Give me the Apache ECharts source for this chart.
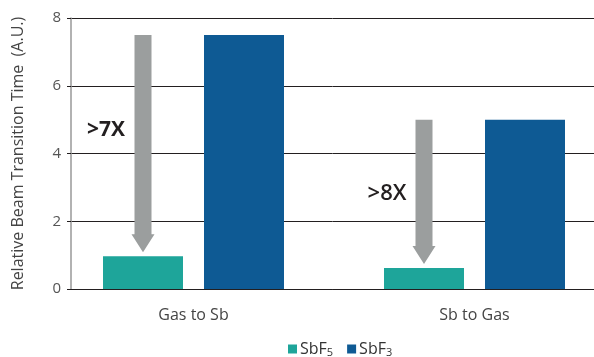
<!DOCTYPE html>
<html>
<head>
<meta charset="utf-8">
<script src="https://cdn.jsdelivr.net/npm/echarts@6/dist/echarts.min.js"></script>
<style>
  html, body { margin: 0; padding: 0; background: #fff; }
  #chart { width: 594px; height: 357px; }
</style>
</head>
<body>
<div id="chart"></div>
<script>
// Beam transition time for the two switching directions
const categories = ['Gas to Sb', 'Sb to Gas'];
const sbf5Values = [0.97, 0.62];
const sbf3Values = [7.5, 5.0];
// height (in axis units) at which each ratio callout sits
const ratioLabelLevel = [4.7, 2.8];
const yTicks = [0, 2, 4, 6, 8];

const FONT = '"Open Sans", "Noto Sans", sans-serif';
const TEAL = '#1ea59a';
const BLUE = '#0e5a94';
const ARROW = '#9b9e9e';
const CALLOUT_FONTS = ['bold 21px ' + FONT, '600 22px ' + FONT];

const BAR_W = 80;
const BAR_GAP = 21;

const chart = echarts.init(document.getElementById('chart'), null, { renderer: 'canvas' });

const arrowData = categories.map((c, i) => [i, sbf3Values[i], sbf5Values[i], ratioLabelLevel[i]]);

// Down arrow from the SbF3 level to the SbF5 bar, with the ratio callout beside it
function renderArrow(params, api) {
  const idx = params.dataIndex;
  const top = api.coord([api.value(0), api.value(1)]);
  const bot = api.coord([api.value(0), api.value(2)]);
  const lab = api.coord([api.value(0), api.value(3)]);
  const cx = top[0] - (BAR_W + BAR_GAP) / 2;
  const shaftHalf = 8.5, headHalf = 11.5, headH = 18;
  const tipY = bot[1] - 4;
  const headTop = tipY - headH;
  const ratio = Math.floor(sbf3Values[idx] / sbf5Values[idx]);
  return {
    type: 'group',
    children: [
      {
        type: 'polygon',
        shape: {
          points: [
            [cx - shaftHalf, top[1]], [cx + shaftHalf, top[1]],
            [cx + shaftHalf, headTop], [cx + headHalf, headTop],
            [cx, tipY],
            [cx - headHalf, headTop], [cx - shaftHalf, headTop]
          ]
        },
        style: { fill: ARROW }
      },
      {
        type: 'text',
        x: cx - 37,
        y: lab[1],
        style: {
          text: '>' + ratio + 'X',
          fill: '#231f20',
          font: CALLOUT_FONTS[idx],
          align: 'center',
          verticalAlign: 'middle'
        }
      }
    ]
  };
}

const option = {
  animation: false,
  backgroundColor: '#ffffff',
  grid: [
    { left: 71, right: 0, top: 18, bottom: 68, outerBoundsMode: 'none' },
    { left: 53, width: 562, top: 18, bottom: 68, outerBoundsMode: 'none' }
  ],
  xAxis: [
    {
      gridIndex: 0, type: 'value', min: 0, max: 1,
      axisLine: { show: true, lineStyle: { color: '#231f20', width: 1 } },
      axisTick: { show: false }, axisLabel: { show: false }, splitLine: { show: false }
    },
    {
      gridIndex: 1, type: 'category', data: categories,
      axisLine: { show: false }, axisTick: { show: false }, splitLine: { show: false },
      axisLabel: { margin: 18, fontSize: 16, color: '#444', fontFamily: FONT }
    }
  ],
  yAxis: [
    {
      gridIndex: 0, type: 'value', min: yTicks[0], max: yTicks[yTicks.length - 1], interval: 2,
      name: 'Relative Beam Transition Time  (A.U.)',
      nameLocation: 'middle', nameGap: 45,
      nameTextStyle: { fontSize: 16, color: '#444', fontFamily: FONT },
      axisLine: { show: true, lineStyle: { color: '#999', width: 1.5 } },
      axisTick: { show: true, inside: false, length: 4, lineStyle: { color: '#231f20' } },
      axisLabel: { margin: 10, fontSize: 15, color: '#555', fontFamily: FONT },
      splitLine: { show: true, lineStyle: { color: '#231f20', width: 1 } }
    },
    {
      gridIndex: 1, type: 'value', min: yTicks[0], max: yTicks[yTicks.length - 1], interval: 2,
      show: false
    }
  ],
  legend: {
    left: 283, top: 336,
    icon: 'rect', itemWidth: 9, itemHeight: 9, itemGap: 14,
    data: ['SbF5', 'SbF3'],
    formatter: name => name.replace(/(\d)$/, '{s|$1}'),
    textStyle: {
      fontSize: 16, color: '#333', fontFamily: FONT, padding: [0, 0, 0, -2],
      rich: { s: { fontSize: 11, color: '#333', fontFamily: FONT, padding: [8, 0, 0, 0] } }
    }
  },
  series: [
    {
      name: 'SbF5', type: 'bar', xAxisIndex: 1, yAxisIndex: 1,
      data: sbf5Values, barWidth: BAR_W, barGap: (BAR_GAP / BAR_W * 100) + '%',
      itemStyle: { color: TEAL }
    },
    {
      name: 'SbF3', type: 'bar', xAxisIndex: 1, yAxisIndex: 1,
      data: sbf3Values, barWidth: BAR_W, barGap: (BAR_GAP / BAR_W * 100) + '%',
      itemStyle: { color: BLUE }
    },
    {
      name: 'ratio', type: 'custom', xAxisIndex: 1, yAxisIndex: 1,
      renderItem: renderArrow, data: arrowData, z: 5,
      encode: { x: 0, y: [1, 2] }
    }
  ]
};

chart.setOption(option);
</script>
</body>
</html>
